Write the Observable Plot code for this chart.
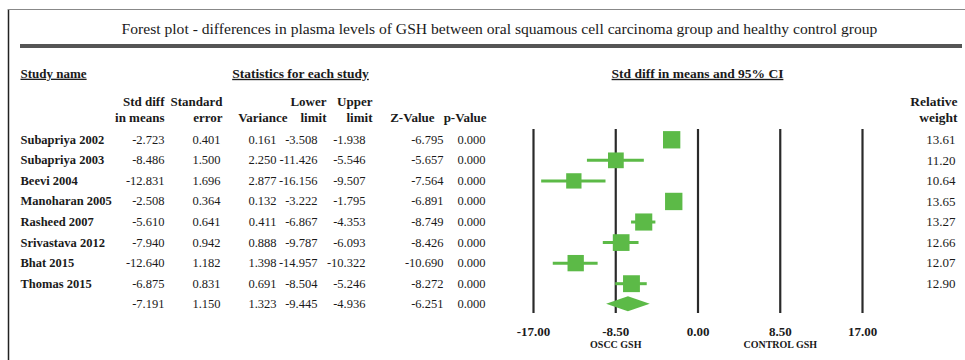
<!DOCTYPE html>
<html>
<head>
<meta charset="utf-8">
<script src="https://cdn.jsdelivr.net/npm/d3@7"></script>
<script src="https://cdn.jsdelivr.net/npm/@observablehq/plot@0.6"></script>
<style>
  body { margin: 0; background: #fff; }
  svg { display: block; }
</style>
</head>
<body>
<div id="chart"></div>
<script>
// ---- data ----
const studies = ["Subapriya 2002", "Subapriya 2003", "Beevi 2004", "Manoharan 2005", "Rasheed 2007", "Srivastava 2012", "Bhat 2015", "Thomas 2015"];
const stdDiff  = [-2.723, -8.486, -12.831, -2.508, -5.610, -7.940, -12.640, -6.875];
const stdErr   = [0.401, 1.500, 1.696, 0.364, 0.641, 0.942, 1.182, 0.831];
const variance = [0.161, 2.250, 2.877, 0.132, 0.411, 0.888, 1.398, 0.691];
const lowerLim = [-3.508, -11.426, -16.156, -3.222, -6.867, -9.787, -14.957, -8.504];
const upperLim = [-1.938, -5.546, -9.507, -1.795, -4.353, -6.093, -10.322, -5.246];
const zValue   = [-6.795, -5.657, -7.564, -6.891, -8.749, -8.426, -10.690, -8.272];
const pValue   = [0.000, 0.000, 0.000, 0.000, 0.000, 0.000, 0.000, 0.000];
const relWeight = [13.61, 11.20, 10.64, 13.65, 13.27, 12.66, 12.07, 12.90];

const summary = {est: -7.191, se: 1.150, variance: 1.323, lo: -9.445, hi: -4.936, z: -6.251, p: 0.000};

const xTicks = [-17, -8.5, 0, 8.5, 17];
const favourLabels = [{x: -8.5, label: "OSCC GSH"}, {x: 8.5, label: "CONTROL GSH"}];

const titleText = "Forest plot - differences in plasma levels of GSH between oral squamous cell carcinoma group and healthy control group";

// ---- derived tables ----
const rows = studies.map((name, i) => ({
  name, row: i, est: stdDiff[i], se: stdErr[i], variance: variance[i],
  lo: lowerLim[i], hi: upperLim[i], z: zValue[i], p: pValue[i], w: relWeight[i]
}));
const summaryRow = {name: "", row: studies.length, ...summary};
const tableRows = [...rows, summaryRow];

// ---- layout ----
const W = 965, H = 360;
const mL = 533, mR = W - 862, mT = 129, mB = H - 313;
const green = "#5cba47";
const serif = "'Liberation Serif', 'Times New Roman', serif";
const hFont = 13, vFont = 12.5;

// column positions (px): right edge of values, right edge of header
const columns = [
  {key: "est", h1: "Std diff", h2: "in means", right: 164, hRight: 164},
  {key: "se", h1: "Standard", h2: "error", right: 220, hRight: 222},
  {key: "variance", h1: "", h2: "Variance", right: 276, hRight: 287},
  {key: "lo", h1: "Lower", h2: "limit", right: 317, hRight: 326},
  {key: "hi", h1: "Upper", h2: "limit", right: 365, hRight: 372},
  {key: "z", h1: "", h2: "Z-Value", right: 443, hRight: 434},
  {key: "p", h1: "", h2: "p-Value", right: 485, hRight: 486}
];

const hdr1Y = 101, hdr2Y = 117;
const at = (px, py, text, opts = {}) => Plot.text([text], {
  text: d => d, frameAnchor: "top-left", dx: px - mL, dy: py - mT,
  lineAnchor: "middle", ...opts
});

const marks = [
  // grid lines at ticks
  Plot.ruleX(xTicks, {stroke: "#2a2a2a", strokeWidth: 2.2}),
  // CI whiskers
  Plot.ruleY(rows, {x1: "lo", x2: "hi", y: "row", stroke: green, strokeWidth: 3}),
  // weighted squares
  Plot.dot(rows, {x: "est", y: "row", r: "w", symbol: "square", fill: green, stroke: null}),
  // summary diamond
  Plot.area([
    {x: summary.lo, y1: summaryRow.row, y2: summaryRow.row},
    {x: summary.est, y1: summaryRow.row - 0.37, y2: summaryRow.row + 0.37},
    {x: summary.hi, y1: summaryRow.row, y2: summaryRow.row}
  ], {x1: "x", y1: "y1", y2: "y2", fill: green}),
  // x axis
  Plot.axisX(xTicks, {anchor: "bottom", tickSize: 0, tickPadding: 13, tickFormat: d => d.toFixed(2),
    fontWeight: "bold", fontSize: 13, label: null}),
  Plot.text(favourLabels, {x: "x", text: "label", frameAnchor: "bottom", dy: 34, fontSize: 10, fontWeight: "bold"}),
  // study names
  Plot.text(rows, {y: "row", text: "name", frameAnchor: "left", dx: 20 - mL, textAnchor: "start", fontWeight: "bold", fontSize: 12.5}),
  // numeric columns
  ...columns.map(c => Plot.text(tableRows, {
    y: "row", text: d => d[c.key].toFixed(3), frameAnchor: "left", dx: c.right - mL, textAnchor: "end", fontSize: vFont
  })),
  // relative weight
  Plot.text(rows, {y: "row", text: d => d.w.toFixed(2), frameAnchor: "left", dx: 955 - mL, textAnchor: "end", fontSize: 13}),
  // headers
  at(499, 28, titleText, {textAnchor: "middle", fontSize: 15.6}),
  at(20, 73, "Study name", {textAnchor: "start", fontWeight: "bold", fontSize: hFont}),
  at(300, 73, "Statistics for each study", {textAnchor: "middle", fontWeight: "bold", fontSize: 13.5}),
  at(697, 73, "Std diff in means and 95% CI", {textAnchor: "middle", fontWeight: "bold", fontSize: 13.5}),
  ...columns.filter(c => c.h1).map(c => at(c.hRight, hdr1Y, c.h1, {textAnchor: "end", fontWeight: "bold", fontSize: hFont})),
  ...columns.map(c => at(c.hRight, hdr2Y, c.h2, {textAnchor: "end", fontWeight: "bold", fontSize: hFont})),
  at(957, hdr1Y, "Relative", {textAnchor: "end", fontWeight: "bold", fontSize: 13.5}),
  at(957, hdr2Y, "weight", {textAnchor: "end", fontWeight: "bold", fontSize: 13.5})
];

const chart = Plot.plot({
  width: W, height: H,
  marginLeft: mL, marginRight: mR, marginTop: mT, marginBottom: mB,
  style: {fontFamily: serif, fontSize: "12px", color: "#1a1a1a", background: "#fff"},
  x: {domain: [-17, 17], axis: null},
  y: {domain: [-0.5, 8.45], reverse: true, axis: null},
  r: {domain: [0, 13.65], range: [0, 9.8]},
  marks
});

// underline section headers
d3.select(chart).selectAll("text").each(function() {
  const t = this.textContent;
  if (t === "Study name" || t === "Statistics for each study" || t === "Std diff in means and 95% CI") {
    this.style.textDecoration = "underline";
  }
});

// frame decoration
const svg = d3.select(chart);
svg.append("line").attr("x1", 8.5).attr("x2", 8.5).attr("y1", 9).attr("y2", H).attr("stroke", "#222").attr("stroke-width", 1.5);
svg.append("line").attr("x1", 8).attr("x2", W).attr("y1", 9.5).attr("y2", 9.5).attr("stroke", "#888").attr("stroke-width", 1);
svg.append("line").attr("x1", 20).attr("x2", 962).attr("y1", 46).attr("y2", 46).attr("stroke", "#555").attr("stroke-width", 4);

document.getElementById("chart").appendChild(chart);
</script>
</body>
</html>
